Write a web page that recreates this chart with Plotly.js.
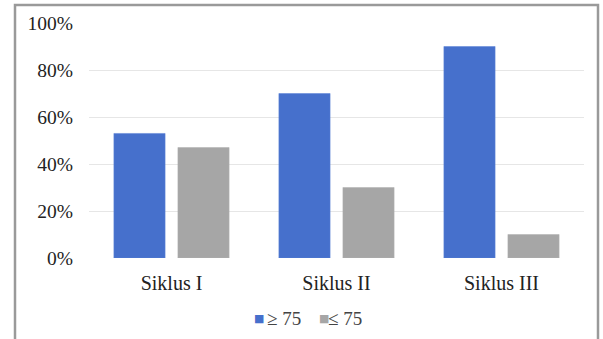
<!DOCTYPE html>
<html><head><meta charset="utf-8">
<script src="https://cdn.plot.ly/plotly-3.0.1.min.js"></script>
<style>html,body{margin:0;padding:0;background:#fff}#c{width:603px;height:339px}</style>
</head><body><div id="c"></div>
<script>
const categories = ["Siklus I", "Siklus II", "Siklus III"];
const seriesNames = ["\u2265\u00A075", "\u2264\u00A075"];
const above75 = [0.53, 0.70, 0.90];
const below75 = [0.47, 0.30, 0.10];
const tickVals = [0, 0.2, 0.4, 0.6, 0.8, 1.0];
const tickText = ["0%", "20%", "40%", "60%", "80%", "100%"];
const colors = ["#4670cc", "#a6a6a6"];

const fam = "Liberation Serif, Times New Roman, serif";
const font = {family: fam, size: 19.5, color: "#222"};
const data = [
  {type: "bar", name: seriesNames[0], x: categories, y: above75,
   marker: {color: colors[0], line: {color: "#5a80d6", width: 0.5}}, hoverinfo: "none", showlegend: false},
  {type: "bar", name: seriesNames[1], x: categories, y: below75,
   marker: {color: colors[1], line: {color: "#b0b0b0", width: 0.5}}, hoverinfo: "none", showlegend: false}
];
const L = 89, W = 495, B = 258, H = 235;
const px = v => (v - L) / W, py = v => (B - v) / H;
const legY = 318;
const swatchX = [259, 323.5];
const textX = [265, 326];
const annotations = [];
seriesNames.forEach((n, i) => {
  annotations.push({xref: "paper", yref: "paper", x: px(swatchX[i]), y: py(legY), xanchor: "center", yanchor: "middle",
    showarrow: false, text: "\u25A0", font: {family: "DejaVu Sans", size: 11, color: colors[i]}});
  annotations.push({xref: "paper", yref: "paper", x: px(textX[i]), y: py(legY), xanchor: "left", yanchor: "middle",
    showarrow: false, text: n, font: {family: fam, size: 19, color: "#444"}});
});
const layout = {
  width: 603, height: 339,
  margin: {l: L, r: 603 - L - W, t: B - H, b: 339 - B},
  paper_bgcolor: "#fff", plot_bgcolor: "#fff",
  barmode: "group", bargap: 0.224, bargroupgap: 0.2,
  font: font,
  xaxis: {type: "category", showline: false, ticks: "", tickfont: {family: fam, size: 20, color: "#222"},
          ticklabelstandoff: 11, automargin: false},
  yaxis: {range: [0, 1.0], tickvals: tickVals, ticktext: tickText, tickfont: font,
          showgrid: true, gridcolor: "#e6e6e6", gridwidth: 1, zeroline: false,
          showline: false, ticks: "", ticklabelstandoff: 15, automargin: false},
  showlegend: false,
  annotations: annotations,
  shapes: [
    {type: "path", xref: "paper", yref: "paper",
     path: "M " + px(15) + "," + py(345) + " L " + px(15) + "," + py(5) + " L " + px(598) + "," + py(5) + " L " + px(598) + "," + py(345),
     line: {color: "#9a9a9a", width: 2.5}}
  ]
};
Plotly.newPlot("c", data, layout, {staticPlot: true, displayModeBar: false});
</script></body></html>
